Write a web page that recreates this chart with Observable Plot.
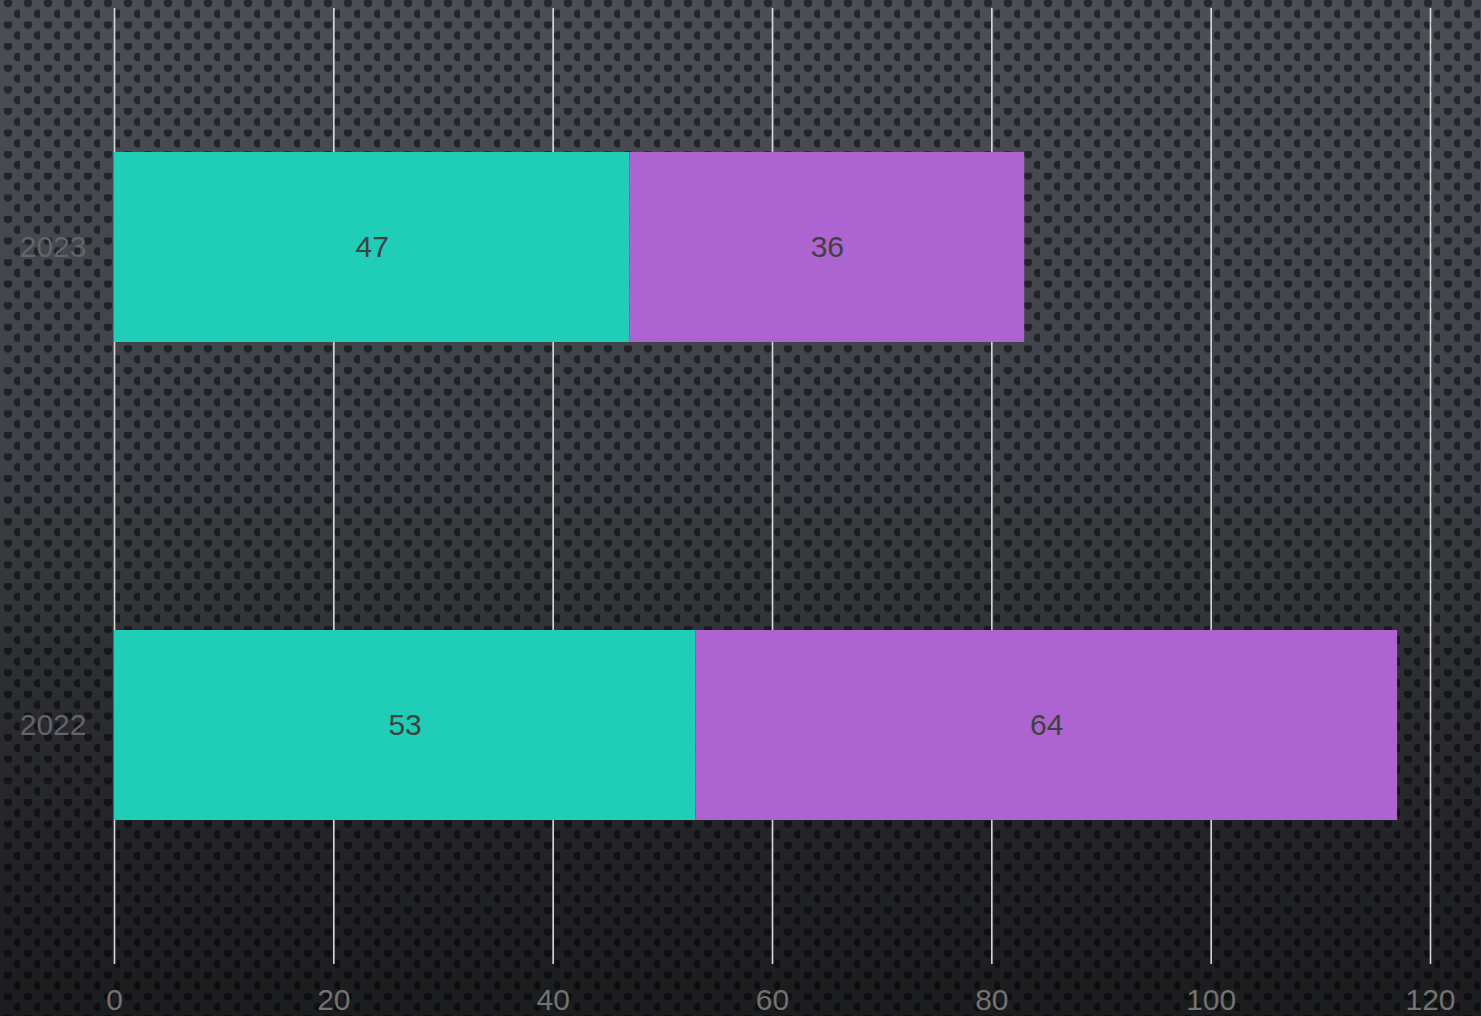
<!DOCTYPE html>
<html>
<head>
<meta charset="utf-8">
<script src="https://cdn.jsdelivr.net/npm/d3@7"></script>
<script src="https://cdn.jsdelivr.net/npm/@observablehq/plot@0.6"></script>
<style>
  html, body { margin: 0; padding: 0; background: #1a1b1d; }
  #chart svg { display: block; }
</style>
</head>
<body>
<div id="chart"></div>
<script>
const years = ["2023", "2022"];
const seriesNames = ["Series 1", "Series 2"];
const series1 = [47, 53];
const series2 = [36, 64];
const xTicks = [0, 20, 40, 60, 80, 100, 120];
const colors = ["#20cdb7", "#ad64d1"];

const data = [];
years.forEach((y, i) => {
  data.push({year: y, series: seriesNames[0], value: series1[i]});
  data.push({year: y, series: seriesNames[1], value: series2[i]});
});

const bg =
  "radial-gradient(circle at 8px 3px, rgba(0,0,0,0.5) 3.9px, transparent 4.7px) 0 0 / 20px 21.6px, " +
  "radial-gradient(circle at 18px 13.8px, rgba(0,0,0,0.5) 3.9px, transparent 4.7px) 0 0 / 20px 21.6px, " +
  "linear-gradient(180deg, #4b4e55 0%, #3e4147 45%, #2b2d31 68%, #202124 88%, #1b1c1e 100%)";

const chart = Plot.plot({
  width: 1481,
  height: 1016,
  marginTop: 8,
  marginBottom: 52,
  marginLeft: 114,
  marginRight: 51,
  style: {fontFamily: "'Liberation Sans', Arial, sans-serif", background: bg},
  x: {domain: [0, 120]},
  y: {domain: years, paddingInner: 0.6025, paddingOuter: 0.301},
  color: {domain: seriesNames, range: colors},
  marks: [
    Plot.gridX(xTicks, {stroke: "#d9d9d9", strokeOpacity: 1, strokeWidth: 1.6}),
    Plot.barX(data, Plot.stackX({x: "value", y: "year", fill: "series"})),
    Plot.text(data, Plot.stackX({x: "value", y: "year", text: d => String(d.value), fill: "#404040", fontSize: 30})),
    Plot.axisX(xTicks, {tickSize: 0, tickPadding: 24, fontSize: 30, color: "#727272", label: null, tickFormat: d => String(d)}),
    Plot.axisY({tickSize: 0, tickPadding: 28, fontSize: 30, color: "#62646a", label: null})
  ]
});
document.getElementById("chart").appendChild(chart);
</script>
</body>
</html>
